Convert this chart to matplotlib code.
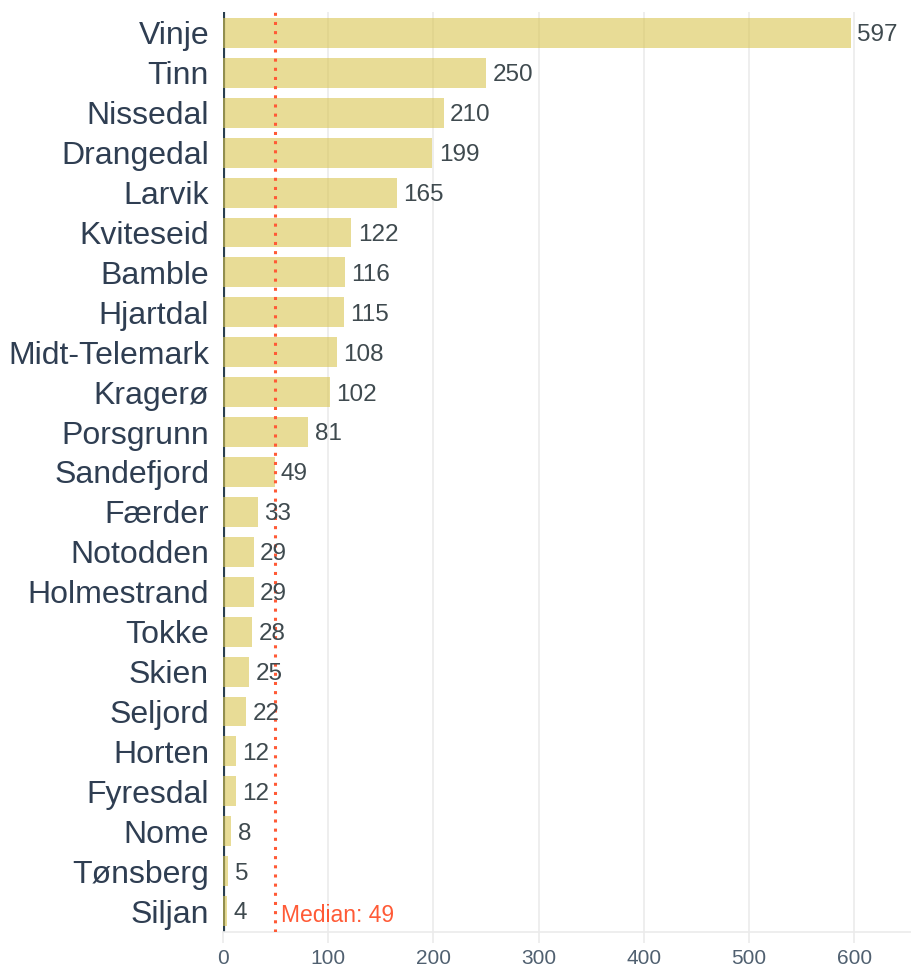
import matplotlib
matplotlib.use("Agg")
import matplotlib.pyplot as plt

kommuner = ["Vinje", "Tinn", "Nissedal", "Drangedal", "Larvik", "Kviteseid", "Bamble",
            "Hjartdal", "Midt-Telemark", "Kragerø", "Porsgrunn", "Sandefjord", "Færder",
            "Notodden", "Holmestrand", "Tokke", "Skien", "Seljord", "Horten", "Fyresdal",
            "Nome", "Tønsberg", "Siljan"]
antall = [597, 250, 210, 199, 165, 122, 116, 115, 108, 102, 81, 49, 33,
          29, 29, 28, 25, 22, 12, 12, 8, 5, 4]
median = 49
xticks = [0, 100, 200, 300, 400, 500, 600]

plt.rcParams['font.family'] = ['Liberation Sans', 'DejaVu Sans']

fig = plt.figure(figsize=(9.12, 9.69), dpi=100)
ax = fig.add_axes([223 / 912, 1 - 932 / 969, 1 - 223 / 912, (932 - 12) / 969])

pos = list(range(len(kommuner)))

# mørk nullinje bak søylene
ax.axvline(0, color='#2a3f4f', lw=3, zorder=1)
ax.barh(pos, antall, height=0.75, color='#d9c550', alpha=0.6, zorder=2)

for y, v in zip(pos, antall):
    ax.text(v + 6, y + 0.06, str(v), va='center', ha='left', fontsize=17.5, color='#3f4a4f', zorder=5)

ax.axvline(median, color='#ff5a36', lw=2.2, ls=(0, (1, 2)), zorder=4)
ax.text(median + 6, pos[-1] + 0.1, f"Median: {median}", color='#ff5a36', fontsize=16.5,
        va='center', ha='left', zorder=5)

ax.set_yticks(pos)
ax.set_yticklabels(kommuner, fontsize=23, color='#2f3e52')
ax.set_ylim(len(kommuner) - 0.475, -0.525)
ax.set_xlim(0, 655)
ax.set_xticks(xticks)
ax.set_xticklabels([str(t) for t in xticks], fontsize=15, color='#506070')

ax.grid(axis='x', color='#ebebeb', lw=1.2, zorder=0)
ax.set_axisbelow(True)
for s in ['top', 'right', 'left']:
    ax.spines[s].set_visible(False)
ax.spines['bottom'].set_color('#ebebeb')
ax.spines['bottom'].set_linewidth(1.2)
ax.tick_params(axis='y', length=0, pad=10)
ax.tick_params(axis='x', length=8, color='#ebebeb', width=1.2, pad=4)

fig.savefig('out.png', dpi=100)
